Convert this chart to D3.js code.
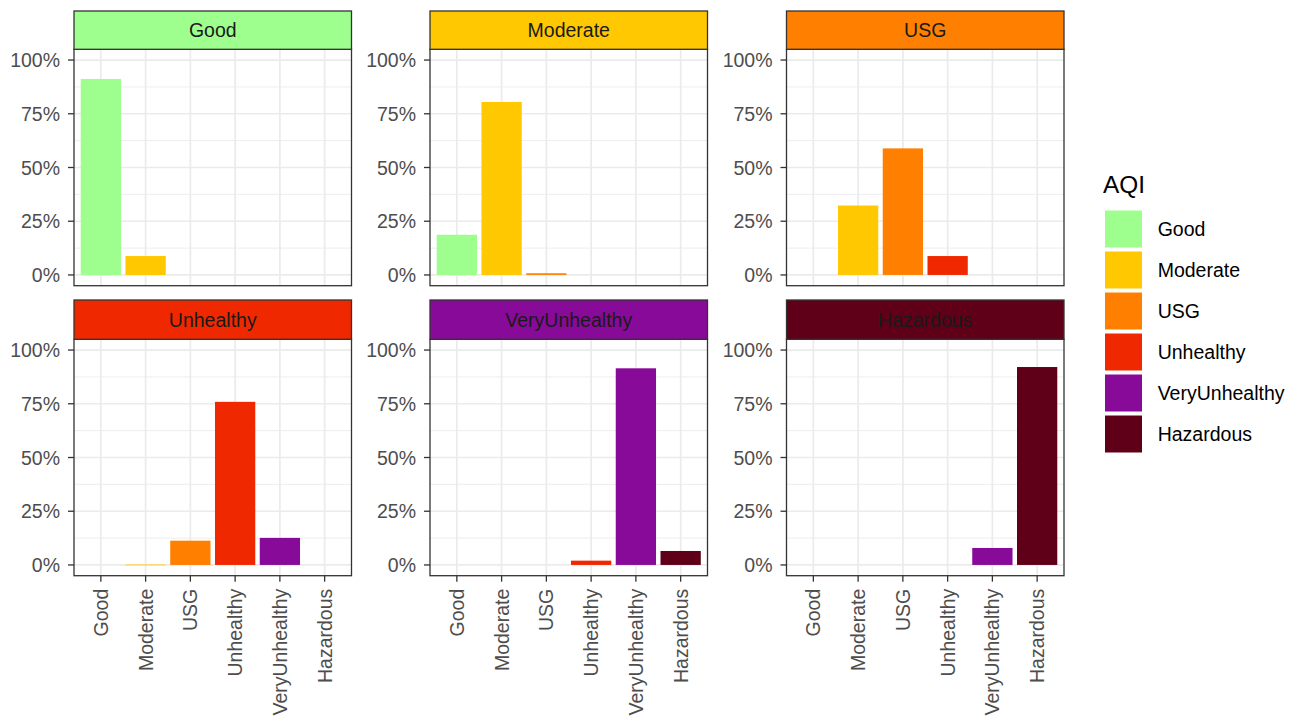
<!DOCTYPE html>
<html>
<head>
<meta charset="utf-8">
<script src="https://cdn.jsdelivr.net/npm/d3@7"></script>
<style>
  html, body { margin: 0; padding: 0; background: #fff; }
  svg { display: block; font-family: "Liberation Sans", Arial, sans-serif; }
</style>
</head>
<body>
<svg id="chart" width="1308" height="724"></svg>
<script>
// AQI categories, in display order
const categories = ["Good", "Moderate", "USG", "Unhealthy", "VeryUnhealthy", "Hazardous"];
const categoryColors = ["#9EFF8E", "#FFC800", "#FF8000", "#F02800", "#880A98", "#600018"];

// Share of each predicted category within each observed category (one facet each)
const shareGood          = [0.912, 0.088, 0,     0,     0,     0];
const shareModerate      = [0.187, 0.805, 0.008, 0,     0,     0];
const shareUSG           = [0,     0.323, 0.589, 0.088, 0,     0];
const shareUnhealthy     = [0,     0.002, 0.113, 0.759, 0.126, 0];
const shareVeryUnhealthy = [0,     0,     0,     0.020, 0.915, 0.065];
const shareHazardous     = [0,     0,     0,     0,     0.079, 0.921];

const facetValues = [shareGood, shareModerate, shareUSG, shareUnhealthy, shareVeryUnhealthy, shareHazardous];

const yTicks = [0, 0.25, 0.5, 0.75, 1];
const yMinor = [0.125, 0.375, 0.625, 0.875];
const legendTitle = "AQI";

const svg = d3.select("#chart");
const fmtPct = d3.format(".0%");

// facet grid geometry
const colLefts = [74, 430, 786.5];
const panelW = 277.5;
const rows = [
  { stripTop: 11,  stripBottom: 49.3,  panelBottom: 285.7 },
  { stripTop: 300, stripBottom: 339.3, panelBottom: 575.7 }
];
const fontSize = 19.5;
const axisColor = "#4D4D4D";
const borderColor = "#333333";
const gridColor = "#EBEBEB";

facetValues.forEach((vals, i) => {
  const r = Math.floor(i / 3), c = i % 3;
  const row = rows[r];
  const left = colLefts[c], right = left + panelW;
  const top = row.stripBottom, bottom = row.panelBottom;

  const x = d3.scalePoint().domain(categories).range([left, right]).padding(0.6);
  const barW = x.step() * 0.9;
  const y = d3.scaleLinear().domain([-0.05, 1.05]).range([bottom, top]);

  const g = svg.append("g");

  // panel background
  g.append("rect").attr("x", left).attr("y", top).attr("width", panelW).attr("height", bottom - top)
    .attr("fill", "#fff");

  // minor grid
  g.selectAll(".ym").data(yMinor).join("line")
    .attr("x1", left).attr("x2", right)
    .attr("y1", d => y(d)).attr("y2", d => y(d))
    .attr("stroke", gridColor).attr("stroke-width", 0.9);

  // major grid
  g.selectAll(".yM").data(yTicks).join("line")
    .attr("x1", left).attr("x2", right)
    .attr("y1", d => y(d)).attr("y2", d => y(d))
    .attr("stroke", gridColor).attr("stroke-width", 1.7);
  g.selectAll(".xM").data(categories).join("line")
    .attr("x1", d => x(d)).attr("x2", d => x(d))
    .attr("y1", top).attr("y2", bottom)
    .attr("stroke", gridColor).attr("stroke-width", 1.7);

  // bars
  g.selectAll(".bar").data(vals.map((v, k) => ({ cat: categories[k], v, col: categoryColors[k] })).filter(d => d.v > 0))
    .join("rect")
    .attr("x", d => x(d.cat) - barW / 2)
    .attr("width", barW)
    .attr("y", d => y(d.v))
    .attr("height", d => Math.max(y(0) - y(d.v), 0.8))
    .attr("fill", d => d.col);

  // panel border
  g.append("rect").attr("x", left).attr("y", top).attr("width", panelW).attr("height", bottom - top)
    .attr("fill", "none").attr("stroke", borderColor).attr("stroke-width", 1.3);

  // strip
  g.append("rect").attr("x", left).attr("y", row.stripTop).attr("width", panelW)
    .attr("height", row.stripBottom - row.stripTop)
    .attr("fill", categoryColors[i]).attr("stroke", borderColor).attr("stroke-width", 1.3);
  g.append("text").attr("x", left + panelW / 2).attr("y", (row.stripTop + row.stripBottom) / 2)
    .attr("dy", "0.36em").attr("text-anchor", "middle")
    .attr("font-size", fontSize).attr("fill", "#1A1A1A").text(categories[i]);

  // y axis
  const ya = g.append("g");
  ya.selectAll("line").data(yTicks).join("line")
    .attr("x1", left - 6).attr("x2", left)
    .attr("y1", d => y(d)).attr("y2", d => y(d))
    .attr("stroke", borderColor).attr("stroke-width", 1.3);
  ya.selectAll("text").data(yTicks).join("text")
    .attr("x", left - 14).attr("y", d => y(d)).attr("dy", "0.36em")
    .attr("text-anchor", "end").attr("font-size", fontSize).attr("fill", axisColor)
    .text(d => fmtPct(d));

  // x axis on the bottom row only
  if (r === 1) {
    const xa = g.append("g");
    xa.selectAll("line").data(categories).join("line")
      .attr("x1", d => x(d)).attr("x2", d => x(d))
      .attr("y1", bottom).attr("y2", bottom + 6)
      .attr("stroke", borderColor).attr("stroke-width", 1.3);
    xa.selectAll("text").data(categories).join("text")
      .attr("transform", d => `translate(${x(d)},${bottom + 13}) rotate(-90)`)
      .attr("dy", "0.36em").attr("text-anchor", "end")
      .attr("font-size", fontSize).attr("fill", axisColor)
      .text(d => d);
  }
});

// legend
const lg = svg.append("g");
lg.append("text").attr("x", 1103).attr("y", 193.3).attr("font-size", 24.4).attr("fill", "#000").text(legendTitle);
const keyY = d3.scaleBand().domain(categories).range([208.5, 208.5 + 41 * categories.length]);
lg.selectAll(".key").data(categories).join("rect")
  .attr("x", 1104.5).attr("y", d => keyY(d) + 1.5)
  .attr("width", 38).attr("height", 38)
  .attr("fill", (d, k) => categoryColors[k])
  .attr("stroke", "#fff").attr("stroke-width", 1);
lg.selectAll(".lab").data(categories).join("text")
  .attr("x", 1157.7).attr("y", d => keyY(d) + 20.5).attr("dy", "0.36em")
  .attr("font-size", fontSize).attr("fill", "#000").text(d => d);
</script>
</body>
</html>
